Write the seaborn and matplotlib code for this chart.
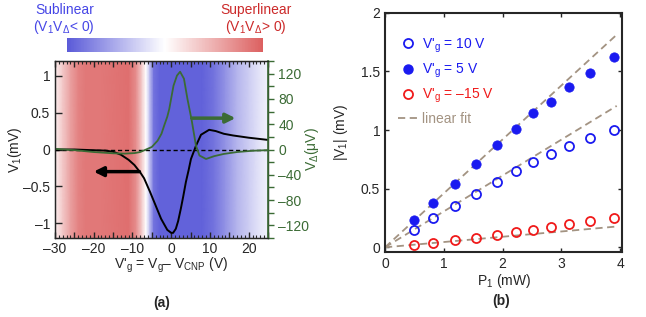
import numpy as np
import pandas as pd
import matplotlib
matplotlib.use("Agg")
import matplotlib.pyplot as plt
import seaborn as sns
from matplotlib.colors import LinearSegmentedColormap, Normalize
from matplotlib.cm import ScalarMappable
from matplotlib.ticker import MultipleLocator, FuncFormatter
from matplotlib.lines import Line2D

# ---- panel (a): gate sweep ----
vg_v1 = [-30, -25, -20, -17, -15, -13, -11, -9.5, -8, -7, -5.5, -4.4, -2.6, -1, 0,
         0.5, 1.2, 1.8, 2.5, 3.1, 3.8, 4.5, 5.1, 6.4, 7.7, 9.8, 11.5, 13.6, 16, 20, 25]
v1 = [0.0, 0.0, -0.01, -0.015, -0.03, -0.07, -0.14, -0.21, -0.31, -0.39, -0.57, -0.71,
      -0.94, -1.09, -1.13, -1.13, -1.075, -0.97, -0.80, -0.64, -0.44, -0.28, -0.13,
      0.05, 0.20, 0.267, 0.25, 0.213, 0.19, 0.16, 0.13]

vg_vd = [-30, -25, -20, -15, -12, -9.5, -8, -6.1, -5, -3.5, -2.5, -1.8, -1, -0.5, 0.6,
         1.5, 2.3, 3.3, 4.2, 5.3, 6.4, 7.3, 9, 11.1, 13.6, 17, 21, 25]
vdelta = [1, -1, -4, -6, -6.5, -5.7, -4, 1, 4, 14, 25, 38, 52, 64, 101,
          117, 123, 112, 80, 46, 6, -9.5, -15, -10.5, -7, -4, -2, -1]

# sign/strength of V1*Vdelta used for the shaded background (+ = superlinear)
vg_bg = [-30, -28, -26, -24, -22, -18, -14, -11, -9, -7.5, -6.5, -5.5, -4.5, -3,
         -1, 3, 8, 11, 14, 17, 20, 23, 25]
bg_val = [0.1, 0.35, 0.6, 0.78, 0.85, 0.85, 0.88, 0.9, 0.7, 0.3, 0.0, -0.4, -0.85,
          -0.95, -0.95, -0.95, -0.95, -0.85, -0.65, -0.45, -0.3, -0.15, -0.08]

# ---- panel (b): power dependence ----
p1 = [0.49, 0.82, 1.19, 1.54, 1.90, 2.23, 2.52, 2.82, 3.13, 3.48, 3.90]
v1_10 = [0.15, 0.247, 0.349, 0.454, 0.556, 0.647, 0.727, 0.797, 0.866, 0.936, 1.004]
v1_5 = [0.23, 0.378, 0.54, 0.706, 0.868, 1.01, 1.144, 1.24, 1.365, 1.49, 1.626]
v1_m15 = [0.02, 0.037, 0.06, 0.08, 0.108, 0.134, 0.15, 0.173, 0.196, 0.221, 0.25]
fit_slopes = [0.306, 0.46, 0.045]
fit_p = [0, 3.94]

sns.set_style("ticks")
plt.rcParams['font.family'] = ['Liberation Sans', 'DejaVu Sans']
plt.rcParams['mathtext.fontset'] = 'custom'
plt.rcParams['mathtext.rm'] = 'Liberation Sans'
plt.rcParams['mathtext.it'] = 'Liberation Sans:italic'
plt.rcParams['mathtext.bf'] = 'Liberation Sans:bold'
plt.rcParams['axes.unicode_minus'] = True

W, H = 646, 317
green = "#3b6b35"
blue_t = "#4646e6"
red_t = "#cc2a2a"
fitc = "#a39382"
mblue = "#1a1af0"
mred = "#f01a1a"
dash = "\u2013"
cmap = LinearSegmentedColormap.from_list("bwr2", ["#5a5ad8", "white", "#dc6060"])

fig = plt.figure(figsize=(W / 100, H / 100), dpi=100)

def px(x, y):
    return x / W, 1 - y / H

# ---------- panel (a) ----------
ax = fig.add_axes([55 / W, 1 - 238 / H, 213 / W, 177 / H])
ylo, yhi = -1.2, 1.2
X = np.array([vg_bg, vg_bg])
Y = np.array([[ylo] * len(vg_bg), [yhi] * len(vg_bg)])
C = np.array([bg_val, bg_val])
ax.pcolormesh(X, Y, C, shading='gouraud', cmap=cmap, vmin=-1, vmax=1, zorder=0)
ax.axhline(0, color='k', ls=(0, (3, 2)), lw=1, zorder=2)

df1 = pd.DataFrame({"vg": vg_v1, "v1": v1})
sns.lineplot(data=df1, x="vg", y="v1", ax=ax, color='k', lw=1.4, sort=False, zorder=3)
ax.set_xlim(-30, 25)
ax.set_ylim(ylo, yhi)
ax.xaxis.set_major_locator(MultipleLocator(5))
ax.xaxis.set_minor_locator(MultipleLocator(1))
ax.xaxis.set_major_formatter(FuncFormatter(lambda v, p: f"{v:.0f}".replace("-", dash) if v % 10 == 0 else ""))
ax.yaxis.set_major_locator(MultipleLocator(0.5))
ax.yaxis.set_major_formatter(FuncFormatter(lambda v, p: (f"{v:g}").replace("-", dash)))
ax.tick_params(axis='x', which='both', direction='in', top=True, labelsize=10, pad=3)
ax.tick_params(axis='x', which='major', length=4, width=1)
ax.tick_params(axis='x', which='minor', length=2, width=0.8)
ax.tick_params(axis='y', which='major', direction='in', length=5, width=1, labelsize=10)
ax.set_xlabel("")
ax.set_ylabel(r"V$_1$(mV)", fontsize=10)
ax.yaxis.set_label_coords(-0.145, 0.5)
for s in ax.spines.values():
    s.set_linewidth(1.0)

ax2 = ax.twinx()
df2 = pd.DataFrame({"vg": vg_vd, "vd": vdelta})
sns.lineplot(data=df2, x="vg", y="vd", ax=ax2, color=green, lw=1.3, sort=False)
ax2.set_ylim(-140, 140)
ax2.yaxis.set_major_locator(MultipleLocator(40))
ax2.yaxis.set_minor_locator(MultipleLocator(20))
ax2.yaxis.set_major_formatter(FuncFormatter(lambda v, p: f"{v:.0f}".replace("-", dash)))
ax2.tick_params(axis='y', which='both', direction='out', colors=green, labelsize=10, length=4, width=1)
ax2.spines['right'].set_color(green)
ax2.spines['right'].set_linewidth(1.2)
ax2.set_ylabel(r"V$_\Delta$(μV)", color=green, fontsize=10)
ax2.yaxis.set_label_coords(1.165, 0.5)

ax.annotate("", xy=(-20, -0.3), xytext=(-8.2, -0.3),
            arrowprops=dict(arrowstyle='-|>', color='k', lw=2.5, mutation_scale=14, shrinkA=0, shrinkB=0),
            zorder=4)
ax2.annotate("", xy=(16.6, 49.6), xytext=(5.3, 49.6),
             arrowprops=dict(arrowstyle='-|>', color=green, lw=2.5, mutation_scale=14, shrinkA=0, shrinkB=0))

cax = fig.add_axes([66.7 / W, 1 - 52.3 / H, 196.3 / W, 14.6 / H])
cb = fig.colorbar(ScalarMappable(norm=Normalize(-1, 1), cmap=cmap), cax=cax, orientation='horizontal')
cb.set_ticks([])
cb.outline.set_visible(False)

fig.text(*px(65, 10), "Sublinear", color=blue_t, fontsize=10, ha='center', va='center')
fig.text(*px(64, 27), r"(V$_1$V$_\Delta$< 0)", color=blue_t, fontsize=10, ha='center', va='center')
fig.text(*px(256, 10), "Superlinear", color=red_t, fontsize=10, ha='center', va='center')
fig.text(*px(256, 27), r"(V$_1$V$_\Delta$> 0)", color=red_t, fontsize=10, ha='center', va='center')
fig.text(*px(171, 265), r"V$'_{\rm g}$ = V$_{\rm g}$" + dash + r" V$_{\rm CNP}$ (V)",
         fontsize=10, ha='center', va='center')
fig.text(*px(162, 303), "(a)", fontsize=10, fontweight='bold', ha='center', va='center')

# ---------- panel (b) ----------
bx = fig.add_axes([385 / W, 1 - 252 / H, 237 / W, 239.3 / H])
fit_df = pd.DataFrame({
    "p": fit_p * 3,
    "v": [s * p for s in fit_slopes for p in fit_p],
    "set": [k for k in ["10", "5", "-15"] for _ in fit_p],
})
for k in ["10", "5", "-15"]:
    sub = fit_df[fit_df["set"] == k]
    sns.lineplot(data=sub, x="p", y="v", ax=bx, color=fitc, lw=1.3, ls=(0, (4, 2.5)), zorder=1)

bx.plot(p1, v1_10, 'o', mfc='none', mec=mblue, mew=1.3, ms=6.5, zorder=3)
sns.scatterplot(x=p1, y=v1_5, ax=bx, color=mblue, s=45, edgecolor=mblue, zorder=3)
bx.plot(p1, v1_m15, 'o', mfc='none', mec=mred, mew=1.3, ms=6.5, zorder=3)

bx.set_xlim(0, 4.03)
bx.set_ylim(-0.04, 2)
bx.xaxis.set_major_locator(MultipleLocator(1))
bx.yaxis.set_major_locator(MultipleLocator(0.5))
bx.yaxis.set_major_formatter(FuncFormatter(lambda v, p: f"{v:g}"))
bx.tick_params(direction='in', top=True, right=True, length=3, width=1, labelsize=10)
for s in bx.spines.values():
    s.set_linewidth(1.5)
bx.set_xlabel("")
bx.set_ylabel(r"|V$_1$| (mV)", fontsize=10, labelpad=8)

handles = [
    Line2D([], [], ls='none', marker='o', mfc='none', mec=mblue, mew=1.3, ms=6.5),
    Line2D([], [], ls='none', marker='o', mfc=mblue, mec=mblue, ms=6.5),
    Line2D([], [], ls='none', marker='o', mfc='none', mec=mred, mew=1.3, ms=6.5),
    Line2D([], [], color=fitc, lw=1.3, ls=(0, (4, 2.5))),
]
labels = [r"V$'_{\rm g}$ = 10 V", r"V$'_{\rm g}$ = 5 V", r"V$'_{\rm g}$ = " + dash + "15 V",
          "linear fit"]
leg = bx.legend(handles, labels, loc='upper left', bbox_to_anchor=(0.013, 0.9415), frameon=False,
                fontsize=10, handlelength=1.4, handletextpad=0.35, labelspacing=0.5, borderpad=0.2)
for t, c in zip(leg.get_texts(), [mblue, mblue, mred, fitc]):
    t.set_color(c)

fig.text(*px(504, 281), r"P$_1$ (mW)", fontsize=10, ha='center', va='center')
fig.text(*px(501, 301), "(b)", fontsize=10, fontweight='bold', ha='center', va='center')

fig.savefig("out.png", dpi=100)
